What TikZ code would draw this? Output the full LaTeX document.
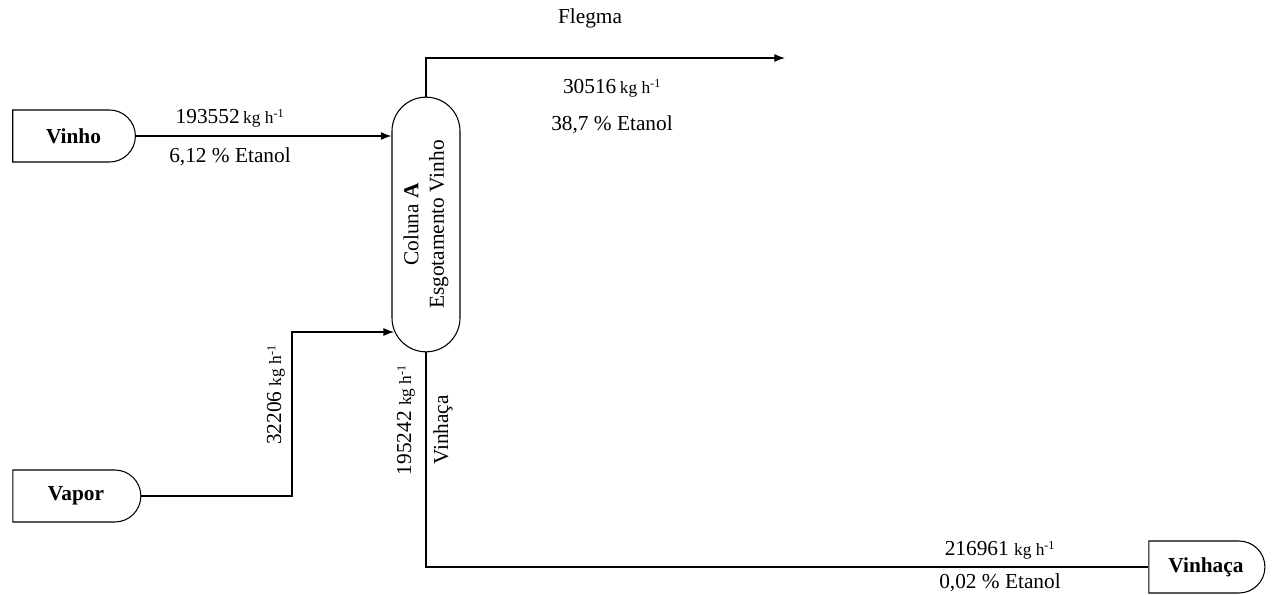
\documentclass[tikz,border=0pt]{standalone}
\usepackage{fontspec}
\setmainfont{Liberation Serif}
\usetikzlibrary{shapes.misc,arrows.meta}
\newcommand{\kgh}{{\fontsize{13}{15}\selectfont kg h\textsuperscript{-1}}}
\begin{document}
\begin{tikzpicture}[x=0.75pt,y=0.75pt,
  term/.style={draw, line width=0.8pt, rounded rectangle, rounded rectangle left arc=none,
    minimum height=39pt, inner sep=0pt, font=\fontsize{16}{19}\selectfont\bfseries},
  colbox/.style={draw, line width=0.8pt, rounded rectangle, rotate=90, minimum width=191pt,
    minimum height=51pt, inner sep=0pt, align=center, font=\fontsize{16}{19}\selectfont},
  lab/.style={font=\fontsize{16}{19}\selectfont, inner sep=0pt},
  flow/.style={line width=0.9pt, -{Latex[length=8pt,width=6pt]}},
  plain/.style={line width=0.9pt}]
\useasboundingbox (0,0) rectangle (1275,594);

\node[term, minimum width=92pt] (vinho) at (73.5,458) {Vinho};
\node[term, minimum width=96pt] (vapor) at (76,98) {Vapor};
\node[term, minimum width=87pt] (vinhaca) at (1206,27) {Vinhaça};
\node[colbox] (col) at (426,369.5) {Coluna \textbf{A}\\Esgotamento Vinho};

% Flegma
\coordinate (f1) at (426,536);
\coordinate (fend) at (785,536);
\draw[flow] (col.east) -- (f1) -- (fend);

% Vinho feed
\draw[flow] (vinho.east) -- (vinho.east -| col.north);

% Vapor feed
\coordinate (v1) at (292,98);
\coordinate (v2) at (292,262);
\draw[flow, shorten >=-2pt] (vapor.east) -- (v1) -- (v2) -- (v2 -| col.north);

% Vinhaca out
\coordinate (w1) at (426,27);
\draw[plain] (col.west) -- (w1) -- (vinhaca.west);

% labels
\node[lab] (lflegma) at (590,576) {Flegma};
\node[lab] (lf1) at (612,506) {30516\,\kgh};
\node[lab] (lf2) at (612,469) {38,7 \% Etanol};
\node[lab] (lv1) at (230,476) {193552\,\kgh};
\node[lab] (lv2) at (230,437) {6,12 \% Etanol};
\node[lab, rotate=90] (lvap) at (276,199) {32206 \kgh};
\node[lab, rotate=90] (lb1) at (406,174) {195242 \kgh};
\node[lab, rotate=90] (lb2) at (443,164) {Vinhaça};
\node[lab] (lw1) at (1000,44) {216961 \kgh};
\node[lab] (lw2) at (1000,11) {0,02 \% Etanol};
\end{tikzpicture}
\end{document}
